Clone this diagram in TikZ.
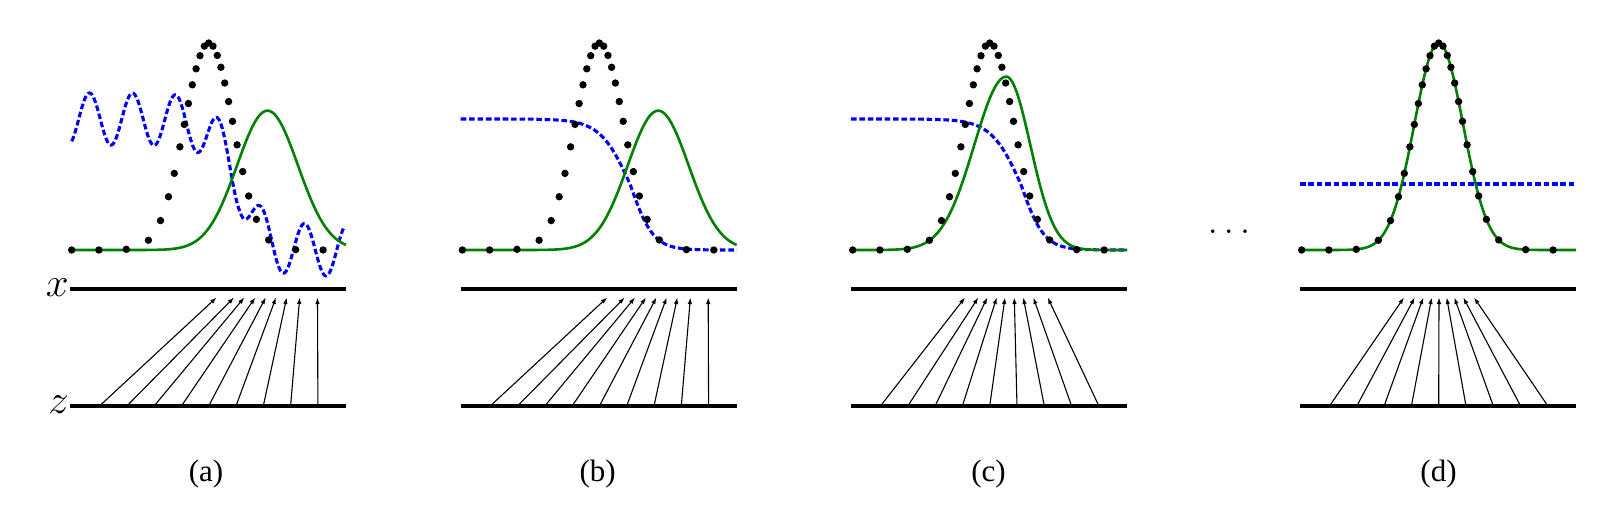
\RequirePackage{fix-cm}
\documentclass[tikz,border=0pt]{standalone}
\usepackage{fontspec}
\newfontfamily\labfont{Liberation Serif}
\usetikzlibrary{arrows.meta}
\definecolor{pgreen}{RGB}{0,128,0}
\def\dotlist{-137,-109.8,-82.4,-60.3,-48.2,-40.2,-34.4,-28.8,-24.4,-20.3,-16.4,-12.6,-8.7,-4.3,0,4.3,8.6,12.2,16,19.9,23.8,28.4,34,40,47.7,60,87,114.4}
\newcommand{\mypanel}[2]{%
  \coordinate (#1-xl) at (0,289); \coordinate (#1-xr) at (276,289);
  \coordinate (#1-zl) at (0,406); \coordinate (#1-zr) at (276,406);
  \draw[axisline] (#1-xl) -- (#1-xr);
  \draw[axisline] (#1-zl) -- (#1-zr);
  \foreach \t [count=\k] in {#2} {
    \coordinate (#1-z\k) at ({2.2+27.3*\k},406);
    \coordinate (#1-x\k) at (\t,297.5);
    \draw[mapar] (#1-z\k) -- (#1-x\k);
  }%
}
\newcommand{\datadots}{%
  \foreach \d in \dotlist {\fill ({138.7+\d},{250-207*exp(-(((\d)/10)^2)/11.907)}) circle[radius=3.7pt];}%
}
\begin{document}
\begin{tikzpicture}[x=1pt,y=-1pt,
  axisline/.style={line width=4pt},
  mapar/.style={line width=1.1pt,-{Latex[length=6.5pt,width=4.5pt]}},
  gen/.style={line width=2.6pt,color=pgreen},
  disc/.style={line width=3.1pt,color=blue,dash pattern=on 5.6pt off 2.8pt},
  lab/.style={font=\labfont\fontsize{31}{36}\selectfont,anchor=base,inner sep=0pt},
  axlab/.style={font=\fontsize{41}{48}\selectfont,anchor=east,inner sep=0pt},
  declare function={sig(\x,\c)=1/(1+exp((\x-\c)/ifthenelse(\x<\c,15,11.5)));}
]
\useasboundingbox (0,0) rectangle (1610,525);

% panel (a)
\begin{scope}[shift={(70,0)}]
  \mypanel{pa}{146.5,164,174.3,185.2,195.7,206,216.7,229.7,247.5}
  \node[axlab] (xlab) at (-1,288) {$x$};
  \node[axlab] (zlab) at (-1,405) {$z$};
  \draw[disc] plot[domain=1.7:273.5,samples=400] (\x,{250-131*sig(\x,169.5)-26*cos(360*((\x-19.5)/43))});
  \draw[gen] plot[domain=0:276,samples=200] (\x,{250-139.3*exp(-(((\x-197.5)/10)^2)/18.605)});
  \datadots
  \node[lab] (cap-a) at (136,481.7) {(a)};
\end{scope}

% panel (b)
\begin{scope}[shift={(460.7,0)}]
  \mypanel{pb}{146.5,164,174.3,185.2,195.7,206,216.7,229.7,247.5}
  \draw[disc] plot[domain=0:276,samples=200] (\x,{250-131*sig(\x,169.5)});
  \draw[gen] plot[domain=0:276,samples=200] (\x,{250-139.3*exp(-(((\x-197.5)/10)^2)/18.605)});
  \datadots
  \node[lab] (cap-b) at (137,481.7) {(b)};
\end{scope}

% panel (c)
\begin{scope}[shift={(851,0)}]
  \mypanel{pc}{114,127.3,136.3,145.7,154,163.3,172.3,182.3,196.7}
  \draw[disc] plot[domain=0:276,samples=200] (\x,{250-131*sig(\x,170)});
  \draw[gen] plot[domain=0:276,samples=240] (\x,{250-173.3*exp(-(((\x-155.3)/10)^2)/ifthenelse(\x<155.3,20.48,11.52))});
  \datadots
  \node[lab] (cap-c) at (137.5,481.7) {(c)};
\end{scope}

\node[font=\fontsize{36.7}{44}\selectfont,anchor=base,inner sep=0pt] (more) at (1229,233.7) {$\ldots$};

% panel (d)
\begin{scope}[shift={(1300,0)}]
  \mypanel{pd}{104,114.7,123.3,131.7,139,146.7,154.3,163.3,174}
  \coordinate (dl) at (0,184); \coordinate (dr) at (276,184);
  \draw[disc] (dl) -- (dr);
  \draw[gen] plot[domain=0:276,samples=240] (\x,{250-207*exp(-(((\x-138.7)/10)^2)/11.907)});
  \datadots
  \node[lab] (cap-d) at (138.5,481.7) {(d)};
\end{scope}
\end{tikzpicture}
\end{document}
